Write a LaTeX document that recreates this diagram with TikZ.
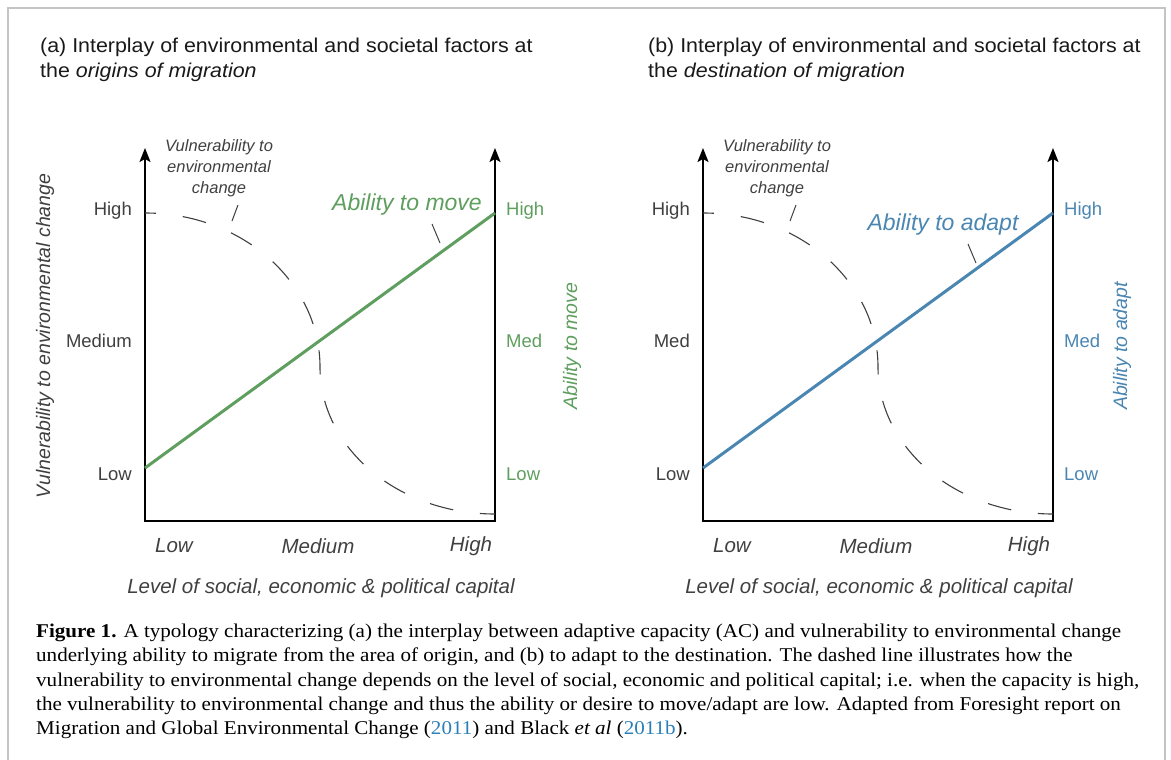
\documentclass[tikz,border=0pt]{standalone}
\usepackage{fontspec}
\setsansfont{Liberation Sans}
\newfontfamily\titlefont[FakeStretch=1.07]{Liberation Sans}
\newfontfamily\capfont[FakeStretch=1.08]{Liberation Serif}
\usepackage{tikz}
\usetikzlibrary{arrows.meta, calc}
\definecolor{movegreen}{HTML}{5E9E5E}
\definecolor{adaptblue}{HTML}{4A86B2}
\definecolor{labelgray}{HTML}{404040}
\definecolor{framegray}{HTML}{C4C4C4}
\definecolor{citeblue}{HTML}{2A7FB8}

\tikzset{
  axis/.style={line width=2pt, black, >={Stealth[length=14pt, width=11pt, inset=3pt]}},
  abline/.style={line width=3pt},
  vulcurve/.style={labelgray, line width=1.1pt, dash pattern=on 24pt off 27pt, dash phase=13pt},
  leader/.style={labelgray, line width=1pt},
  title/.style={font=\titlefont\fontsize{20}{25}\selectfont, align=left, inner sep=0pt, text=black!90},
  tick/.style={font=\sffamily\fontsize{18.5}{21}\selectfont, inner sep=0pt, text=labelgray},
  itick/.style={tick, font=\sffamily\itshape\fontsize{20.5}{23}\selectfont},
  vtick/.style={tick, font=\sffamily\itshape\fontsize{19.5}{23}\selectfont},
  note/.style={font=\sffamily\itshape\fontsize{16.5}{21}\selectfont, align=center, inner sep=0pt, text=labelgray},
  ablabel/.style={font=\sffamily\itshape\fontsize{23}{26}\selectfont, inner sep=0pt},
  caption/.style={font=\capfont\fontsize{19.5}{24.2}\selectfont, align=left, inner sep=0pt, text=black}
}

\begin{document}
\begin{tikzpicture}[x=1pt, y=-1pt]

  \useasboundingbox (0,0) rectangle (1171,760);

  % Frame
  \draw[framegray, line width=1.5pt] (8,760) -- (8,8) -- (1165,8) -- (1165,760);

  % Titles
  \node[title, anchor=north west] (ta) at (40,38)
    {(a) Interplay of environmental and societal factors at\\the \textit{origins of migration}};
  \node[title, anchor=north west] (tb) at (648,38)
    {(b) Interplay of environmental and societal factors at\\the \textit{destination of migration}};

  % Both panels
  \foreach \p/\dx/\col/\abil/\med/\ax/\ay/\rx in {a/0/movegreen/move/Medium/407/205/572, b/558/adaptblue/adapt/Med/385/225/564} {
    \begin{scope}[xshift=\dx]
      % Axes
      \coordinate (\p-o) at (145,521);
      \coordinate (\p-r) at (495,521);
      \coordinate (\p-lt) at (145,148);
      \coordinate (\p-rt) at (495,148);
      \draw[axis, <->] (\p-lt) -- (\p-o) -- (\p-r) -- (\p-rt);

      % Vulnerability curve
      \coordinate (\p-vs) at (145,213);
      \coordinate (\p-vm) at (320,367);
      \coordinate (\p-ve) at (495,514);
      \draw[vulcurve] (\p-vs) .. controls (241.7,213) and (320,282) .. (\p-vm)
        .. controls (320,448) and (398,514) .. (\p-ve);

      % Ability line
      \coordinate (\p-lo) at (145,468);
      \coordinate (\p-hi) at (495,213);
      \draw[abline, \col] (\p-lo) -- (\p-hi);

      % Left and right scale
      \node[tick, anchor=east] (\p-lh) at (132,211) {High};
      \node[tick, anchor=east] (\p-lm) at (132,341) {\med};
      \node[tick, anchor=east] (\p-ll) at (132,474) {Low};
      \node[tick, anchor=west, text=\col] (\p-rh) at (506,211) {High};
      \node[tick, anchor=west, text=\col] (\p-rm) at (506,341) {Med};
      \node[tick, anchor=west, text=\col] (\p-rl) at (506,474) {Low};

      % Bottom scale
      \node[itick] (\p-bl) at (174,546) {Low};
      \node[itick] (\p-bm) at (318,546) {Medium};
      \node[itick] (\p-bh) at (471,546) {High};
      \node[itick] (\p-xl) at (321,588) {Level of social, economic \& political capital};

      % Curve label
      \node[note] (\p-vn) at (219,168) {Vulnerability to\\environmental\\change};
      \coordinate (\p-v1) at (232,221);
      \coordinate (\p-v2) at (238,205);
      \draw[leader] (\p-v1) -- (\p-v2);

      % Line label
      \node[ablabel, text=\col] (\p-al) at (\ax,\ay) {Ability to \abil};
      \coordinate (\p-a1) at ($(\p-al)+(25,19)$);
      \coordinate (\p-a2) at ($(\p-a1)+(8,19)$);
      \draw[leader] (\p-a1) -- (\p-a2);
      \node[vtick, rotate=90, text=\col] (\p-ar) at (\rx,346) {Ability to \abil};
    \end{scope}
  }

  % Left axis title
  \node[vtick, rotate=90] (vy) at (45,336) {Vulnerability to environmental change};

  % Caption
  \node[caption, anchor=north west] (cap) at (36,624) {%
    \textbf{Figure 1.} A typology characterizing (a) the interplay between adaptive capacity (AC) and vulnerability to environmental change\\
    underlying ability to migrate from the area of origin, and (b) to adapt to the destination. The dashed line illustrates how the\\
    vulnerability to environmental change depends on the level of social, economic and political capital; i.e. when the capacity is high,\\
    the vulnerability to environmental change and thus the ability or desire to move/adapt are low. Adapted from Foresight report on\\
    Migration and Global Environmental Change ({\color{citeblue}2011}) and Black \textit{et al} ({\color{citeblue}2011b}).};

\end{tikzpicture}
\end{document}
